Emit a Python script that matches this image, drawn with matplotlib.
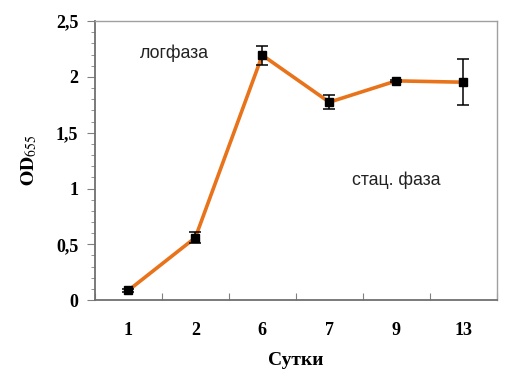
import numpy as np
import matplotlib
matplotlib.use("Agg")
import matplotlib.pyplot as plt
from matplotlib.ticker import MultipleLocator

days = ["1", "2", "6", "7", "9", "13"]
od = [0.087, 0.56, 2.195, 1.774, 1.965, 1.953]
err = [0.01, 0.05, 0.085, 0.063, 0.012, 0.205]

plt.rcParams["mathtext.fontset"] = "stix"

fig = plt.figure(figsize=(5.24, 3.78), dpi=100)
ax = fig.add_axes([0.181, 0.206, 0.767, 0.738])

x = np.arange(len(days))
ax.plot(x, od, color="#e8731a", lw=2.6, zorder=2)
ax.errorbar(x, od, yerr=err, fmt="s", color="black", ms=5.5,
            ecolor="black", elinewidth=1.1, capsize=4, capthick=1.1, zorder=3)

ax.set_xlim(-0.5, len(days) - 0.5)
ax.set_ylim(0, 2.5)
ax.set_xticks(np.arange(-0.5, len(days), 1.0))
ax.set_xticklabels([])
ax.set_xticks(x, minor=True)
ax.set_xticklabels(days, minor=True, fontfamily="Liberation Serif",
                   fontweight="bold", fontsize=13)
ax.tick_params(axis="x", which="major", direction="in", length=5, color="#808080")
ax.tick_params(axis="x", which="minor", length=0, pad=16)

ax.yaxis.set_minor_locator(MultipleLocator(0.1))
ax.set_yticks([0, 0.5, 1, 1.5, 2, 2.5])
ax.set_yticklabels(["0", "0,5", "1", "1,5", "2", "2,5"],
                   fontfamily="Liberation Serif", fontweight="bold", fontsize=13)
ax.tick_params(axis="y", which="major", direction="out", length=6, color="#808080", pad=6)
ax.tick_params(axis="y", which="minor", direction="out", length=3, color="#808080")

for s in ["left", "bottom"]:
    ax.spines[s].set_color("#707070")
    ax.spines[s].set_linewidth(1.3)
for s in ["top", "right"]:
    ax.spines[s].set_color("#a0a0a0")
    ax.spines[s].set_linewidth(1.0)

ax.set_xlabel("Сутки", fontfamily="Liberation Serif", fontweight="bold",
              fontsize=14, labelpad=9)
ax.set_ylabel(r"$\mathbf{OD}_{655}$", fontsize=14, labelpad=12)

ax.text(0.69, 2.21, "логфаза", fontfamily="Liberation Sans", fontsize=12.8,
        ha="center", va="center", color="#222222")
ax.text(4.0, 1.07, "стац. фаза", fontfamily="Liberation Sans", fontsize=12.8,
        ha="center", va="center", color="#222222")

fig.savefig("out.png", dpi=100)
